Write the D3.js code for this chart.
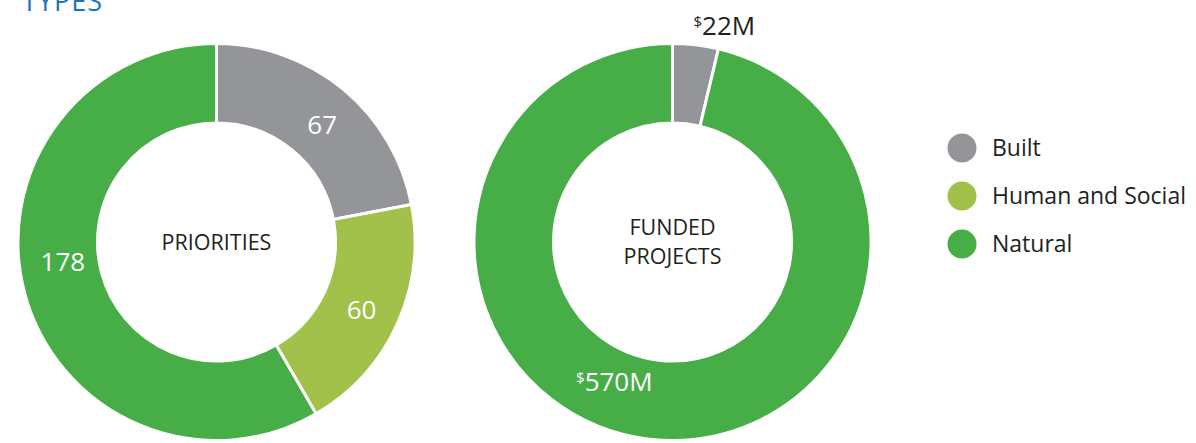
<!DOCTYPE html>
<html>
    <head>
        <title>Types</title>
        <script src="https://cdn.jsdelivr.net/npm/d3@7"></script>
        <style>
            body { margin: 0; background: #fff; }
            svg { font-family: "Open Sans", "Noto Sans", sans-serif; }
        </style>
    </head>
    <body>
        <svg width="1196" height="443" id="lienzo"></svg>
        <script>
            // categories and colours
            const categories = ["Built", "Human and Social", "Natural"]
            const colors = ["#939598", "#a2c14b", "#46ad47"]

            // values
            const priorities = [67, 60, 178]
            const funded = [22, 0, 570] // millions of dollars
            const fundedLabels = ["22M", "", "570M"]
            const priorityLabels = ["67", "60", "178"]

            const svg = d3.select("#lienzo")

            const color = d3.scaleOrdinal().domain(categories).range(colors)

            // title (cut at the top in the reference)
            svg.append("text")
            .attr("x", 22)
            .attr("y", 11)
            .attr("fill", "#1b75bb")
            .attr("font-size", 27)
            .attr("letter-spacing", 1)
            .text("TYPES")

            function drawDonut(cx, cy, values, labels, title, labelPos, labelColors, dollar) {
                const g = svg.append("g").attr("transform", "translate(" + cx + "," + cy + ")")
                const pie = d3.pie().sort(null).value(d => d)
                const arcs = pie(values)
                const arc = d3.arc().innerRadius(119).outerRadius(198.5)

                g.selectAll("path")
                .data(arcs)
                .enter()
                .append("path")
                .attr("d", arc)
                .attr("fill", (d, i) => color(categories[i]))
                .attr("stroke", "#fff")
                .attr("stroke-width", (d) => d.value > 0 ? 3 : 0)

                // labels placed by angle (degrees from top) and radius
                arcs.forEach((d, i) => {
                    if (!labels[i]) return
                    const p = labelPos[i]
                    const a = p[0] * Math.PI / 180
                    const t = g.append("text")
                    .attr("x", p[1] * Math.sin(a))
                    .attr("y", -p[1] * Math.cos(a) + 9)
                    .attr("text-anchor", "middle")
                    .attr("fill", labelColors[i])
                    .attr("font-size", 26)
                    if (dollar) {
                        t.append("tspan").attr("font-size", 15).attr("dy", -8).text("$")
                        t.append("tspan").attr("dy", 8).text(labels[i])
                    } else {
                        t.text(labels[i])
                    }
                })

                const lines = title.split("\n")
                g.selectAll(".center")
                .data(lines)
                .enter()
                .append("text")
                .attr("class", "center")
                .attr("text-anchor", "middle")
                .attr("y", (d, i) => (i - (lines.length - 1) / 2) * 29)
                .attr("dy", "0.36em")
                .attr("fill", "#231f20")
                .attr("font-size", 21.5)
                .text(d => d)
            }

            drawDonut(216.5, 242, priorities, priorityLabels, "PRIORITIES",
                [[42, 158], [115, 160], [262.5, 155]], ["#fff", "#fff", "#fff"], false)

            drawDonut(672.5, 242, funded, fundedLabels, "FUNDED\nPROJECTS",
                [[13.5, 222], [0, 0], [202.5, 152]], ["#231f20", "#fff", "#fff"], true)

            // legend
            const legend = svg.append("g").attr("transform", "translate(962,148)")
            const items = legend.selectAll("g")
            .data(categories)
            .enter()
            .append("g")
            .attr("transform", (d, i) => "translate(0," + i * 48 + ")")

            items.append("circle")
            .attr("r", 14.5)
            .attr("fill", d => color(d))

            items.append("text")
            .attr("x", 30)
            .attr("dy", "0.36em")
            .attr("fill", "#231f20")
            .attr("font-size", 23)
            .text(d => d)
        </script>
    </body>
</html>
